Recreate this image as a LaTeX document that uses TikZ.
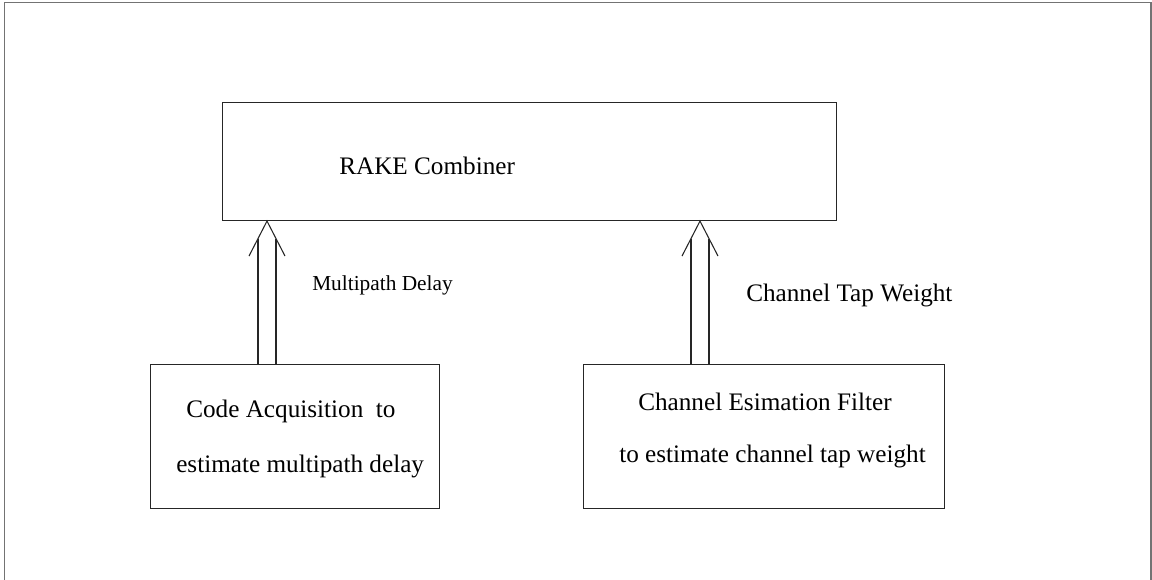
\documentclass[tikz,border=0pt]{standalone}
\usepackage{fontspec}
\setmainfont{Liberation Serif}
\usetikzlibrary{calc}
\begin{document}
\begin{tikzpicture}[x=0.75pt,y=-0.75pt,
  frame/.style={draw=black!55,line width=1.1pt},
  block/.style={draw=black!85,line width=0.8pt,inner sep=0pt},
  label/.style={anchor=base west,inner sep=0pt,font=\fontsize{18.9}{22}\selectfont},
  smalllabel/.style={anchor=base west,inner sep=0pt,font=\fontsize{16}{19}\selectfont},
  shaft/.style={draw=black!85,line width=0.8pt},
  head/.style={draw=black!85,line width=0.8pt,line join=miter}]
  \useasboundingbox (0,0) rectangle (1152,580);
  % outer frame, open below the page edge
  \begin{scope}
    \clip (0,0) rectangle (1152,580);
    \draw[frame] (4.5,600) -- (4.5,2.5) -- (1151,2.5) -- (1151,600);
  \end{scope}

  % blocks
  \node[block,minimum width=614*0.75pt,minimum height=118*0.75pt,anchor=north west] (rake) at (222,102) {};
  \node[block,minimum width=289*0.75pt,minimum height=144*0.75pt,anchor=north west] (acq) at (150,364) {};
  \node[block,minimum width=361*0.75pt,minimum height=144*0.75pt,anchor=north west] (cef) at (583,364) {};

  % block texts
  \node[label] (rakeT) at (339,175) {RAKE Combiner};
  \node[label] (acqT1) at (186,418) {Code Acquisition\ \ to};
  \node[label] (acqT2) at (176,472) {estimate multipath delay};
  \node[label] (cefT1) at (638,411) {Channel Esimation Filter};
  \node[label] (cefT2) at (619,462) {to estimate channel tap weight};

  % arrow labels
  \node[smalllabel] (mpd) at (312,291) {Multipath Delay};
  \node[label] (ctw) at (746,301.5) {Channel Tap Weight};

  % double-shafted open arrows from the lower blocks up to the combiner
  \coordinate (xa) at (267,0);
  \coordinate (xb) at (700,0);
  \foreach \src/\xx in {acq/xa,cef/xb}{
    \coordinate (tip) at (rake.south -| \xx);
    \coordinate (base) at (\src.north -| \xx);
    \draw[shaft] ($(base)+(-9,0)$) -- ($(tip)+(-9,17.5)$);
    \draw[shaft] ($(base)+(9,0)$) -- ($(tip)+(9,17.5)$);
    \draw[head] ($(tip)+(-18,35)$) -- (tip) -- ($(tip)+(18,35)$);
  }
\end{tikzpicture}
\end{document}
